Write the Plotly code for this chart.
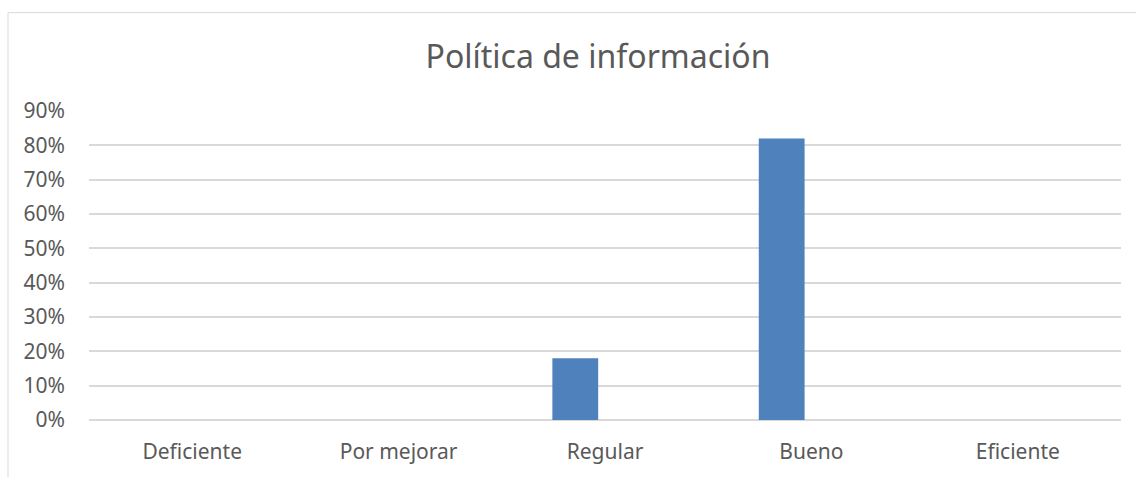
import plotly.graph_objects as go

categories = ["Deficiente", "Por mejorar", "Regular", "Bueno", "Eficiente"]
values = [0.0, 0.0, 0.18, 0.82, 0.0]
tick_vals = [0, 0.1, 0.2, 0.3, 0.4, 0.5, 0.6, 0.7, 0.8, 0.9]
tick_text = ["0%", "10%", "20%", "30%", "40%", "50%", "60%", "70%", "80%", "90%"]

W, H = 1136, 477
M = dict(l=89, r=15, t=111, b=55)
pw = W - M["l"] - M["r"]
ph = H - M["t"] - M["b"]


def px_x(x):
    return (x - M["l"]) / pw


def px_y(y):
    return (H - M["b"] - y) / ph


fig = go.Figure()
fig.add_trace(
    go.Bar(
        x=categories,
        y=values,
        marker=dict(color="#4f81bd", line=dict(width=0)),
        width=0.222,
        offset=-0.255,
        hoverinfo="x+y",
    )
)

# chart-area border (left and top visible in the crop)
fig.add_shape(type="line", xref="paper", yref="paper",
              x0=px_x(8), x1=px_x(8), y0=px_y(12), y1=px_y(H + 5),
              line=dict(color="#d9d9d9", width=1))
fig.add_shape(type="line", xref="paper", yref="paper",
              x0=px_x(8), x1=px_x(W + 5), y0=px_y(12), y1=px_y(12),
              line=dict(color="#d9d9d9", width=1))

fig.update_layout(
    width=W,
    height=H,
    margin=M,
    paper_bgcolor="white",
    plot_bgcolor="white",
    showlegend=False,
    font=dict(family="Noto Sans", color="#595959", size=21),
    title=dict(
        text="Política de información",
        x=598 / W,
        xanchor="center",
        y=1 - 57 / H,
        yanchor="middle",
        font=dict(size=32, color="#595959"),
    ),
)
fig.update_xaxes(
    type="category",
    showgrid=False,
    showline=False,
    ticks="",
    ticklabelstandoff=17,
    tickfont=dict(size=21, color="#595959"),
)
fig.update_yaxes(
    range=[0, 0.9],
    tickvals=tick_vals,
    ticktext=tick_text,
    showgrid=True,
    gridcolor="#d9d9d9",
    gridwidth=1.5,
    zeroline=True,
    zerolinecolor="#d9d9d9",
    zerolinewidth=1.5,
    showline=False,
    ticks="",
    ticklabelstandoff=23,
    tickfont=dict(size=21, color="#595959"),
)

fig.write_html(
    "out.html",
    config={"displayModeBar": False},
    post_script="document.body.style.margin='0';",
)
